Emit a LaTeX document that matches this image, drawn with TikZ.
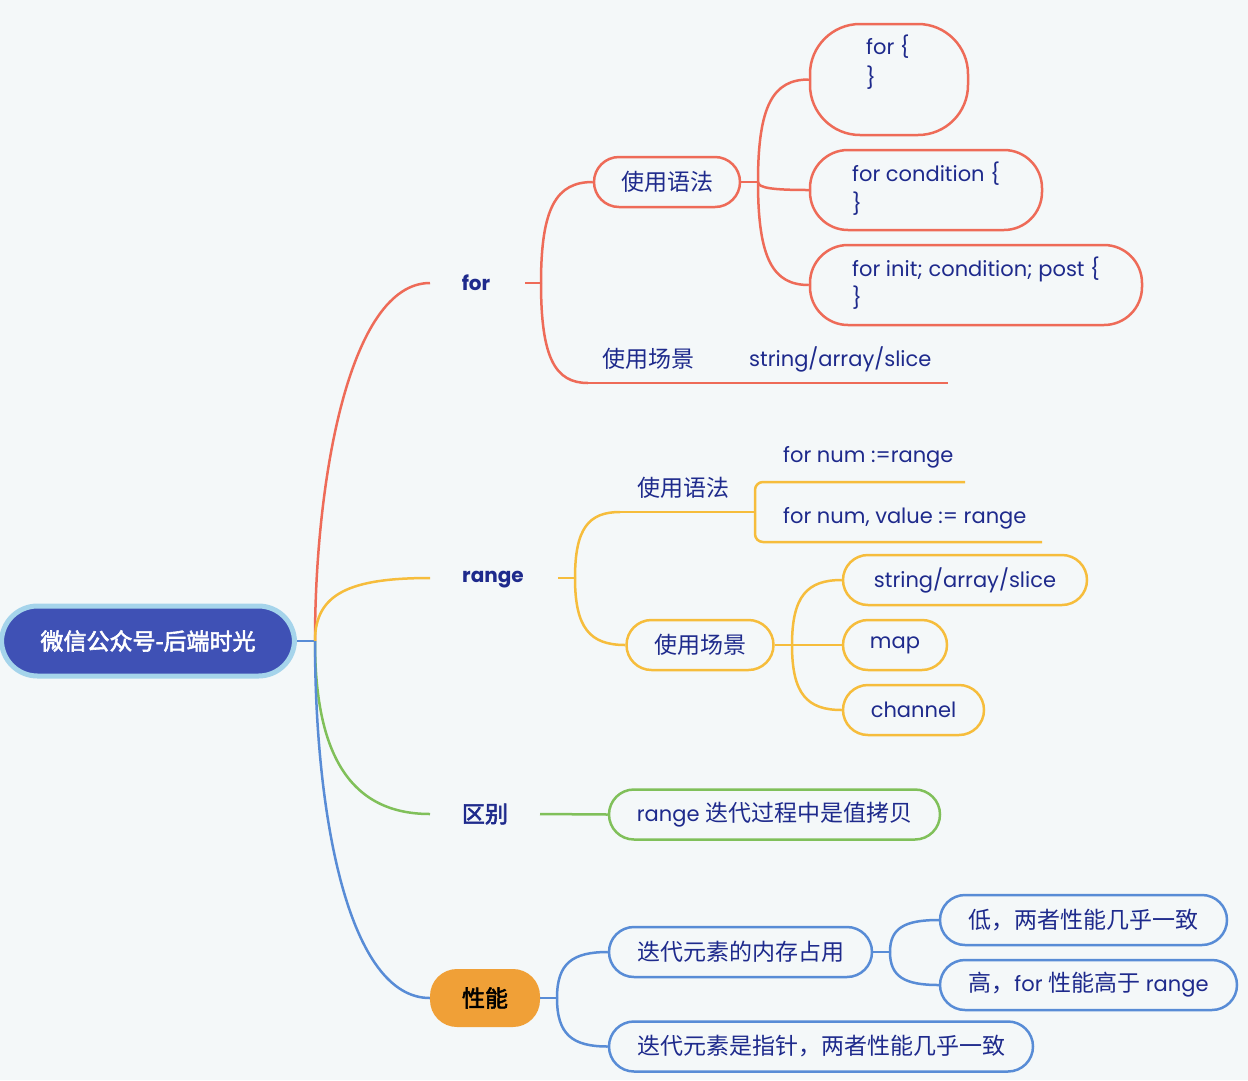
\documentclass[tikz,border=0pt]{standalone}
\usepackage{fontspec}
\setmainfont{Poppins}
\newfontfamily\cjk[AutoFakeBold=2.5]{Noto Sans CJK SC}
\usetikzlibrary{calc}
\definecolor{bg}{RGB}{244,248,249}
\definecolor{navy}{RGB}{30,42,140}
\definecolor{redC}{RGB}{238,107,88}
\definecolor{yelC}{RGB}{246,189,60}
\definecolor{grnC}{RGB}{128,192,90}
\definecolor{bluC}{RGB}{88,140,214}
\definecolor{rootF}{RGB}{63,81,181}
\definecolor{rootB}{RGB}{165,212,235}
\definecolor{oraF}{RGB}{240,160,55}
\newcommand\zh[1]{{\cjk\fontsize{23}{27}\selectfont #1}}
\newcommand\mcurve[5]{\draw[conn=#1] (#2) .. controls ($(#2)!#4!(#2|-#3)$) and ($(#3)!#5!(#2|-#3)$) .. (#3);}
\tikzset{
  txt/.style={text=navy, font=\fontsize{21}{25}\selectfont, inner sep=0pt},
  lone/.style={text=navy, font=\fontsize{20}{24}\selectfont\bfseries, inner sep=0pt},
  rbox/.style={draw=#1, line width=2.5pt, fill=bg, rounded corners=25pt, minimum height=50pt, inner sep=0pt, text=navy, font=\fontsize{21}{25}\selectfont},
  conn/.style={draw=#1, line width=2.5pt},
}
\begin{document}
\begin{tikzpicture}[x=1pt,y=-1pt]
\path[fill=bg] (0,0) rectangle (1248,1080);
\useasboundingbox (0,0) rectangle (1248,1080);

% root
\node[draw=rootB, fill=rootF, line width=5pt, rounded corners=36pt, minimum width=293pt, minimum height=70pt, text=white, font=\bfseries] (root) at (148,641) {\zh{微信公众号-后端时光}};
\coordinate (rb) at (315,641);

% level 1
\node[lone] (for) at (476,283) {for};
\node[lone] (range) at (493,580) {range};
\node[lone] (qb) at (485,814) {\zh{区别}};
\node[fill=oraF, rounded corners=27pt, minimum width=110pt, minimum height=58pt, inner sep=0pt, text=black, font=\bfseries] (xn) at (485,998) {\zh{性能}};

\coordinate (forL) at (430,283);
\coordinate (forR) at (525,283);
\coordinate (forB) at (541,283);
\coordinate (rangeL) at (430,578);
\coordinate (rangeR) at (558,578);
\coordinate (rangeB) at (575,578);
\coordinate (qbL) at (430,814);
\coordinate (qbR) at (540,814);

% for subtree
\node[rbox=redC, minimum width=146pt] (syf) at (667,182) {\zh{使用语法}};
\coordinate (syfB) at (758,182);
\node[rbox=redC, minimum width=158pt, minimum height=111pt, rounded corners=50pt] (b1) at (889,79.5) {};
\node[txt, anchor=west] (b1t) at (866,47) {for \{};
\node[txt, anchor=west] (b1u) at (866,78) {\}};
\node[rbox=redC, minimum width=232pt, minimum height=80pt, rounded corners=38pt] (b2) at (926,190) {};
\node[txt, anchor=west] (b2t) at (852,174) {for condition \{};
\node[txt, anchor=west] (b2u) at (852,204) {\}};
\node[rbox=redC, minimum width=332pt, minimum height=80pt, rounded corners=38pt] (b3) at (976,285) {};
\node[txt, anchor=west] (b3t) at (852,269) {for init; condition; post \{};
\node[txt, anchor=west] (b3u) at (852,298) {\}};
\node[txt] (fcj) at (648,359) {\zh{使用场景}};
\node[txt, anchor=west] (fsas) at (749,359) {string/array/slice};
\coordinate (fcjL) at (588,383);
\coordinate (fcjR) at (948,383);

% range subtree
\node[txt] (rsy) at (683,488) {\zh{使用语法}};
\coordinate (rsyL) at (620,512);
\coordinate (rsyR) at (755,512);
\node[txt, anchor=west] (rn1) at (783,457) {for num :=range};
\node[txt, anchor=west] (rn2) at (783,518) {for num, value := range};
\coordinate (rn1E) at (965,482);
\coordinate (rn2E) at (1042,542);
\node[rbox=yelC, minimum width=147pt] (rcj) at (700,645) {\zh{使用场景}};
\coordinate (rcjB) at (792,645);
\node[rbox=yelC, minimum width=244pt] (s1) at (965,580) {string/array/slice};
\node[rbox=yelC, minimum width=104pt] (s2) at (895,645) {map};
\node[rbox=yelC, minimum width=141pt] (s3) at (913.5,710) {channel};

% qubie
\node[rbox=grnC, minimum width=331pt] (qbx) at (774.5,814.5) {range \zh{迭代过程中是值拷贝}};

% xingneng
\coordinate (xnB) at (557,998);
\node[rbox=bluC, minimum width=263pt] (n1) at (740.5,952) {\zh{迭代元素的内存占用}};
\node[rbox=bluC, minimum width=424pt] (n2) at (821,1046.5) {\zh{迭代元素是指针，两者性能几乎一致}};
\coordinate (n1B) at (890,952);
\node[rbox=bluC, minimum width=287pt] (m1) at (1083.5,920) {\zh{低，两者性能几乎一致}};
\node[rbox=bluC, minimum width=297pt] (m2) at (1088.5,985) {\zh{高，}for \zh{性能高于} range};

% connectors root
\draw[conn=bluC] (root.east) -- (rb);
\mcurve{redC}{rb}{forL}{0.45}{0.7}
\mcurve{yelC}{rb}{rangeL}{0.75}{0.7}
\mcurve{grnC}{rb}{qbL}{0.65}{0.7}
\mcurve{bluC}{rb}{xn.west}{0.5}{0.7}

% for connectors
\draw[conn=redC] (forR) -- (forB);
\mcurve{redC}{forB}{syf.west}{0.75}{0.7}
\mcurve{redC}{forB}{fcjL}{0.75}{0.7}
\draw[conn=redC] (fcjL) -- (fcjR);
\draw[conn=redC] (syf.east) -- (syfB);
\mcurve{redC}{syfB}{b1.west}{0.75}{0.7}
\mcurve{redC}{syfB}{b2.west}{0.75}{0.7}
\mcurve{redC}{syfB}{b3.west}{0.75}{0.7}

% range connectors
\draw[conn=yelC] (rangeR) -- (rangeB);
\mcurve{yelC}{rangeB}{rsyL}{0.75}{0.7}
\draw[conn=yelC] (rsyL) -- (rsyR);
\draw[conn=yelC, rounded corners=8pt] (rn1E) -- (rsyR|-rn1E) -- (rsyR|-rn2E) -- (rn2E);
\mcurve{yelC}{rangeB}{rcj.west}{0.75}{0.7}
\draw[conn=yelC] (rcj.east) -- (rcjB);
\mcurve{yelC}{rcjB}{s1.west}{0.75}{0.7}
\mcurve{yelC}{rcjB}{s2.west}{0.75}{0.7}
\mcurve{yelC}{rcjB}{s3.west}{0.75}{0.7}

% qubie connector
\draw[conn=grnC] (qbR) -- (qbx.west);

% xingneng connectors
\draw[conn=bluC] (xn.east) -- (xnB);
\mcurve{bluC}{xnB}{n1.west}{0.75}{0.7}
\mcurve{bluC}{xnB}{n2.west}{0.75}{0.7}
\draw[conn=bluC] (n1.east) -- (n1B);
\mcurve{bluC}{n1B}{m1.west}{0.75}{0.7}
\mcurve{bluC}{n1B}{m2.west}{0.75}{0.7}
\end{tikzpicture}
\end{document}
